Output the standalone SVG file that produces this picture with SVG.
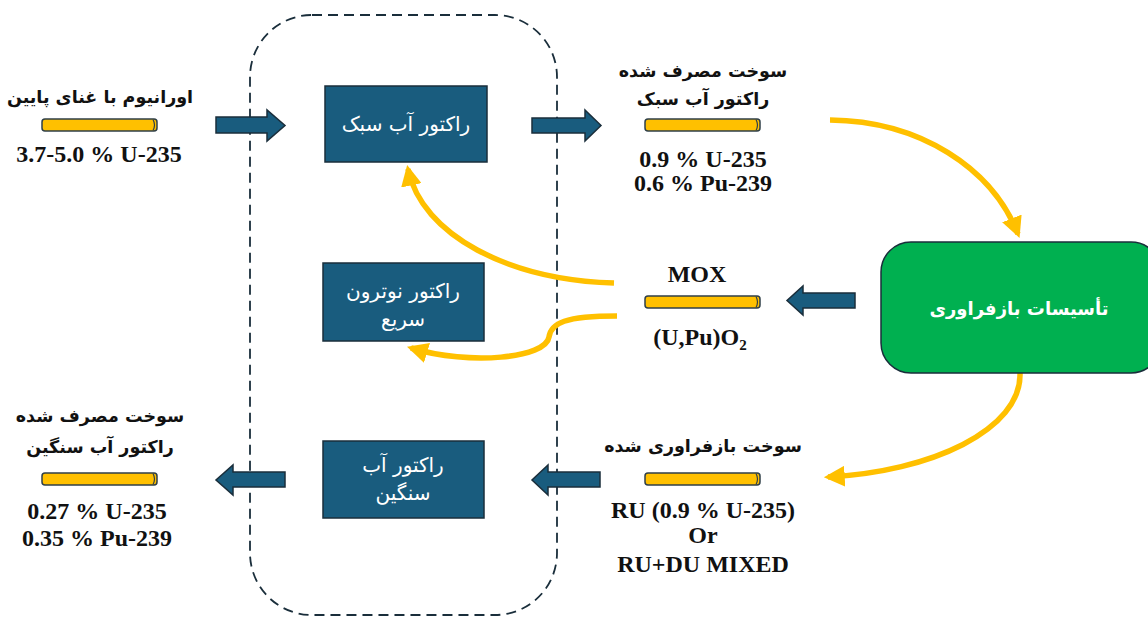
<svg xmlns="http://www.w3.org/2000/svg" width="1148" height="619" viewBox="0 0 1148 619">
<style>
.fa{font-family:"DejaVu Sans","Noto Sans",sans-serif;font-weight:bold;fill:#111;font-size:17.5px;text-anchor:middle;direction:rtl}
.faw{font-family:"DejaVu Sans","Noto Sans",sans-serif;fill:#fff;font-size:20px;text-anchor:middle;direction:rtl}
.en{font-family:"Liberation Serif",serif;font-weight:bold;fill:#111;font-size:24px;text-anchor:middle}
.box{fill:#195C7E;stroke:#1A2E3B;stroke-width:1.5}
.barr{fill:#195C7E;stroke:#1A2E3B;stroke-width:1.5;stroke-linejoin:miter}
.rod{fill:#FFC000;stroke:#2F3F48;stroke-width:1.5}
.cap{fill:none;stroke:#2F3F48;stroke-width:1.2}
.flow{fill:none;stroke:#FFC000;stroke-width:5.5}
</style>
<defs>
<marker id="ah" viewBox="0 0 10 10" refX="8" refY="5" markerWidth="3.8" markerHeight="3.8" orient="auto" markerUnits="strokeWidth">
<path d="M0,0 L10,5 L0,10 z" fill="#FFC000"/>
</marker>
<g id="rodshape">
<rect x="0" y="0" width="115" height="12" rx="3" class="rod"/>
<path d="M111,0.5 Q114,6 111,11.5" class="cap"/>
</g>
</defs>
<rect width="1148" height="619" fill="#fff"/>

<g id="boundary">
<rect x="250" y="15" width="307" height="600" rx="62" fill="none" stroke="#1A2E3B" stroke-width="1.8" stroke-dasharray="10,6"/>
</g>

<g id="connectors">
<path class="barr" d="M216,117 H267 V110 L285,125.5 L267,141 V133 H216 Z"/>
<path class="barr" d="M532,118 H585 V110 L601,125.5 L585,141 V133 H532 Z"/>
<path class="barr" d="M855,293 H803 V286 L787,300.5 L803,315 V308 H855 Z"/>
<path class="barr" d="M285,472 H233 V465 L216,480 L233,495 V487 H285 Z"/>
<path class="barr" d="M600,472 H548 V465 L532,480 L548,495 V487 H600 Z"/>
<path class="flow" marker-end="url(#ah)" d="M830,120 C 920,121 992,168 1018,234"/>
<path class="flow" marker-end="url(#ah)" d="M1020,373 C 1022,430 930,472 828,477"/>
<path class="flow" marker-end="url(#ah)" d="M614,283 C 510,280 422,236 408,169"/>
<path class="flow" marker-end="url(#ah)" d="M617,316 C 565,316 551,323 549,337 C 546,358 470,366 411,348"/>
</g>

<g id="lwr">
<rect class="box" x="325" y="86" width="162" height="76"/>
<text class="faw" x="406" y="131">راکتور آب سبک</text>
</g>
<g id="fbr">
<rect class="box" x="323" y="263" width="161" height="78"/>
<text class="faw" x="403" y="298">راکتور نوترون</text>
<text class="faw" x="403" y="326">سریع</text>
</g>
<g id="hwr">
<rect class="box" x="323" y="441" width="161" height="77"/>
<text class="faw" x="403" y="472">راکتور آب</text>
<text class="faw" x="403" y="500">سنگین</text>
</g>
<g id="reprocessing">
<rect x="881" y="242" width="280" height="131" rx="30" fill="#00B050" stroke="#1A2E3B" stroke-width="1.5"/>
<text class="faw" x="1019" y="315" style="font-weight:bold;font-size:18px">تأسیسات بازفراوری</text>
</g>

<g id="leu">
<text class="fa" x="100" y="103">اورانیوم با غنای پایین</text>
<use href="#rodshape" x="42" y="119"/>
<text class="en" x="99" y="162">3.7-5.0 % U-235</text>
</g>
<g id="spent-lwr">
<text class="fa" x="703" y="77">سوخت مصرف شده</text>
<text class="fa" x="703" y="105">راکتور آب سبک</text>
<use href="#rodshape" x="645" y="119"/>
<text class="en" x="703" y="167">0.9 % U-235</text>
<text class="en" x="703" y="191">0.6 % Pu-239</text>
</g>
<g id="mox">
<text class="en" x="697" y="282">MOX</text>
<use href="#rodshape" x="645" y="296"/>
<text class="en" x="700" y="345">(U,Pu)O<tspan font-size="15" dy="5">2</tspan></text>
</g>
<g id="spent-hwr">
<text class="fa" x="100" y="422">سوخت مصرف شده</text>
<text class="fa" x="100" y="453">راکتور آب سنگین</text>
<use href="#rodshape" x="42" y="473"/>
<text class="en" x="97" y="519">0.27 % U-235</text>
<text class="en" x="97" y="546">0.35 % Pu-239</text>
</g>
<g id="reprocessed">
<text class="fa" x="703" y="452">سوخت بازفراوری شده</text>
<use href="#rodshape" x="645" y="473"/>
<text class="en" x="703" y="518">RU (0.9 % U-235)</text>
<text class="en" x="703" y="543">Or</text>
<text class="en" x="703" y="572">RU+DU MIXED</text>
</g>
</svg>
